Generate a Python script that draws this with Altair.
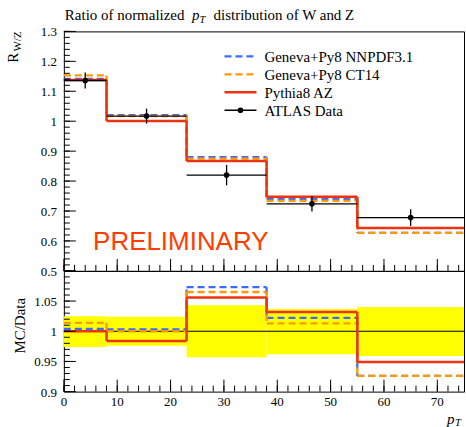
import altair as alt
import pandas as pd
import numpy as np

# ---------------- data ----------------
bin_edges = [0, 8, 23, 38, 55, 75]
data_x = [4, 15.5, 30.5, 46.5, 65]
data_y = [1.136, 1.017, 0.820, 0.724, 0.678]
data_err = [0.027, 0.025, 0.034, 0.026, 0.028]

geneva_nnpdf = [1.141, 1.020, 0.880, 0.740, 0.627]
geneva_ct14 = [1.153, 1.017, 0.875, 0.734, 0.627]
pythia_az = [1.138, 1.001, 0.867, 0.748, 0.643]

ratio_nnpdf = [1.004, 1.003, 1.073, 1.022, 0.926]
ratio_ct14 = [1.014, 1.000, 1.065, 1.013, 0.926]
ratio_pythia = [1.000, 0.984, 1.056, 1.032, 0.949]
band_lo = [0.974, 0.976, 0.957, 0.962, 0.959]
band_hi = [1.025, 1.024, 1.043, 1.037, 1.040]

top_y_labels = [0.5, 0.6, 0.7, 0.8, 0.9, 1.0, 1.1, 1.2, 1.3]
bot_y_labels = [0.9, 0.95, 1.0, 1.05]
bot_y_major = [0.9, 0.95, 1.0, 1.05, 1.1]
x_labels = [0, 10, 20, 30, 40, 50, 60, 70]
legend_labels = ["Geneva+Py8 NNPDF3.1", "Geneva+Py8 CT14", "Pythia8 AZ", "ATLAS Data"]

# ---------------- style ----------------
SERIF = "Liberation Serif"
SANS = "Liberation Sans"
BLUE = "#3d6bff"
ORANGE = "#ff9900"
RED = "#ee3311"
YELLOW = "#ffff00"
DASH = [7, 4]
W, H1, H2 = 401, 240, 121

xs = alt.Scale(domain=[0, 75], nice=False, zero=False)
ys_top = alt.Scale(domain=[0.5, 1.3], nice=False, zero=False)
ys_bot = alt.Scale(domain=[0.9, 1.1], nice=False, zero=False)

top_y_minor = list(np.round(np.arange(0.5, 1.3001, 0.02), 3))
bot_y_minor = list(np.round(np.arange(0.9, 1.1001, 0.01), 3))
x_minor = list(np.arange(0, 75, 2))
x_major = x_labels


def steps(vals, color, dash, sw, ys):
    h = pd.DataFrame({"lo": bin_edges[:-1], "hi": bin_edges[1:], "v": vals})
    v = pd.DataFrame({"e": bin_edges[1:-1], "a": vals[:-1], "b": vals[1:]})
    mk = dict(color=color, strokeWidth=sw)
    if dash:
        mk["strokeDash"] = dash
    c_h = alt.Chart(h).mark_rule(**mk).encode(
        x=alt.X("lo:Q", scale=xs, axis=None), x2="hi:Q",
        y=alt.Y("v:Q", scale=ys, axis=None))
    c_v = alt.Chart(v).mark_rule(**mk).encode(
        x=alt.X("e:Q", scale=xs, axis=None),
        y=alt.Y("a:Q", scale=ys, axis=None), y2="b:Q")
    return [c_v, c_h]


def yticks(vals, length, ys):
    return alt.Chart(pd.DataFrame({"v": vals})).mark_rule(color="black", strokeWidth=1).encode(
        y=alt.Y("v:Q", scale=ys, axis=None), x=alt.value(0), x2=alt.value(length))


def xticks(vals, length, H):
    return alt.Chart(pd.DataFrame({"v": vals})).mark_rule(color="black", strokeWidth=1).encode(
        x=alt.X("v:Q", scale=xs, axis=None), y=alt.value(H - length), y2=alt.value(H))


def ylabels(vals, ys):
    return alt.Chart(pd.DataFrame({"v": vals})).mark_text(
        align="right", baseline="middle", font=SERIF, fontSize=13, color="black", dy=1).encode(
        y=alt.Y("v:Q", scale=ys, axis=None), x=alt.value(-7),
        text=alt.Text("v:Q", format=".2~f"))


def xlabels(vals, H):
    return alt.Chart(pd.DataFrame({"v": vals})).mark_text(
        align="center", baseline="top", font=SERIF, fontSize=13, color="black").encode(
        x=alt.X("v:Q", scale=xs, axis=None), y=alt.value(H + 4),
        text=alt.Text("v:Q", format="d"))


def txt(s, x, y, **kw):
    return alt.Chart(pd.DataFrame({"t": [s]})).mark_text(**kw).encode(
        x=alt.value(x), y=alt.value(y), text="t:N")


def hrule(x1, x2, y, **kw):
    return alt.Chart(pd.DataFrame({"a": [0]})).mark_rule(**kw).encode(
        x=alt.value(x1), x2=alt.value(x2), y=alt.value(y))


# ---------------- top panel ----------------
dat = pd.DataFrame({"x": data_x, "y": data_y,
                    "lo": [a - b for a, b in zip(data_y, data_err)],
                    "hi": [a + b for a, b in zip(data_y, data_err)],
                    "xl": bin_edges[:-1], "xh": bin_edges[1:]})

data_lines = alt.Chart(dat).mark_rule(color="black", strokeWidth=1.3).encode(
    x=alt.X("xl:Q", scale=xs, axis=None), x2="xh:Q", y=alt.Y("y:Q", scale=ys_top, axis=None))
data_err_bars = alt.Chart(dat).mark_rule(color="black", strokeWidth=1.3).encode(
    x=alt.X("x:Q", scale=xs, axis=None), y=alt.Y("lo:Q", scale=ys_top, axis=None), y2="hi:Q")
data_pts = alt.Chart(dat).mark_circle(color="black", size=32, opacity=1).encode(
    x=alt.X("x:Q", scale=xs, axis=None), y=alt.Y("y:Q", scale=ys_top, axis=None))

top_layers = []
top_layers += steps(geneva_nnpdf, BLUE, DASH, 2.3, ys_top)
top_layers += steps(geneva_ct14, ORANGE, DASH, 2.3, ys_top)
top_layers += steps(pythia_az, RED, None, 2.5, ys_top)
top_layers += [data_lines, data_err_bars, data_pts]
top_layers += [
    yticks(top_y_labels, 12, ys_top),
    yticks(top_y_minor, 6, ys_top),
    xticks(x_major, 12, H1),
    xticks(x_minor, 6, H1),
    ylabels(top_y_labels, ys_top),
]

# legend
leg_x1, leg_x2, leg_tx = 161, 193, 201
leg_y = [25, 43, 61, 79]
top_layers += [
    hrule(leg_x1, leg_x2, leg_y[0], color=BLUE, strokeWidth=2.3, strokeDash=DASH),
    hrule(leg_x1, leg_x2, leg_y[1], color=ORANGE, strokeWidth=2.3, strokeDash=DASH),
    hrule(leg_x1, leg_x2, leg_y[2], color=RED, strokeWidth=2.5),
    hrule(leg_x1, leg_x2, leg_y[3], color="black", strokeWidth=1.3),
    alt.Chart(pd.DataFrame({"a": [0]})).mark_circle(color="black", size=32, opacity=1).encode(
        x=alt.value((leg_x1 + leg_x2) / 2), y=alt.value(leg_y[3])),
]
for lab, yy in zip(legend_labels, leg_y):
    top_layers.append(txt(lab, leg_tx, yy + 5.5, align="left", baseline="alphabetic",
                          font=SERIF, fontSize=15, color="black"))

# title
top_layers += [
    txt("Ratio of normalized", 1, -11.7, align="left", baseline="alphabetic",
        font=SERIF, fontSize=15, color="black"),
    txt("p", 128.5, -11.7, align="left", baseline="alphabetic",
        font=SERIF, fontSize=15, fontStyle="italic", color="black"),
    txt("T", 136, -8.7, align="left", baseline="alphabetic",
        font=SERIF, fontSize=10.5, fontStyle="italic", color="black"),
    txt("distribution of W and Z", 150, -11.7, align="left", baseline="alphabetic",
        font=SERIF, fontSize=15, color="black"),
]
# y title R_W/Z
top_layers += [
    txt("R", -45.5, 21.5, align="right", baseline="alphabetic", angle=270,
        font=SERIF, fontSize=15, color="black"),
    txt("W/Z", -42.5, 0, align="right", baseline="alphabetic", angle=270,
        font=SERIF, fontSize=11, color="black"),
]
# PRELIMINARY
top_layers.append(txt("PRELIMINARY", 29.3, 219.3, align="left", baseline="alphabetic",
                      font=SANS, fontSize=26, color="#ff3d00"))

top = alt.layer(*top_layers).properties(width=W, height=H1)

# ---------------- bottom panel ----------------
band = pd.DataFrame({"xl": bin_edges[:-1], "xh": bin_edges[1:], "lo": band_lo, "hi": band_hi})
band_rect = alt.Chart(band).mark_rect(color=YELLOW, opacity=1).encode(
    x=alt.X("xl:Q", scale=xs, axis=None), x2="xh:Q",
    y=alt.Y("lo:Q", scale=ys_bot, axis=None), y2="hi:Q")
unity = alt.Chart(pd.DataFrame({"v": [1.0]})).mark_rule(color="black", strokeWidth=1).encode(
    y=alt.Y("v:Q", scale=ys_bot, axis=None))

bot_layers = [band_rect, unity]
bot_layers += steps(ratio_nnpdf, BLUE, DASH, 2.3, ys_bot)
bot_layers += steps(ratio_ct14, ORANGE, DASH, 2.3, ys_bot)
bot_layers += steps(ratio_pythia, RED, None, 2.5, ys_bot)
bot_layers += [
    yticks(bot_y_major, 12, ys_bot),
    yticks(bot_y_minor, 6, ys_bot),
    xticks(x_major, 12, H2),
    xticks(x_minor, 6, H2),
    ylabels(bot_y_labels, ys_bot),
    xlabels(x_labels, H2),
    txt("MC/Data", -39, 55, align="center", baseline="alphabetic", angle=270,
        font=SERIF, fontSize=15, color="black"),
    txt("p", 384, 153, align="left", baseline="alphabetic",
        font=SERIF, fontSize=15, fontStyle="italic", color="black"),
    txt("T", 392, 155.5, align="left", baseline="alphabetic",
        font=SERIF, fontSize=10.5, fontStyle="italic", color="black"),
]
bottom = alt.layer(*bot_layers).properties(width=W, height=H2)

chart = (
    alt.vconcat(top, bottom, spacing=0, bounds="flush")
    .properties(padding={"left": 6, "top": 6, "right": 0, "bottom": 3})
    .configure_view(stroke="black", strokeWidth=1)
)

chart.save("out.html", embed_options={"renderer": "svg", "actions": False})
